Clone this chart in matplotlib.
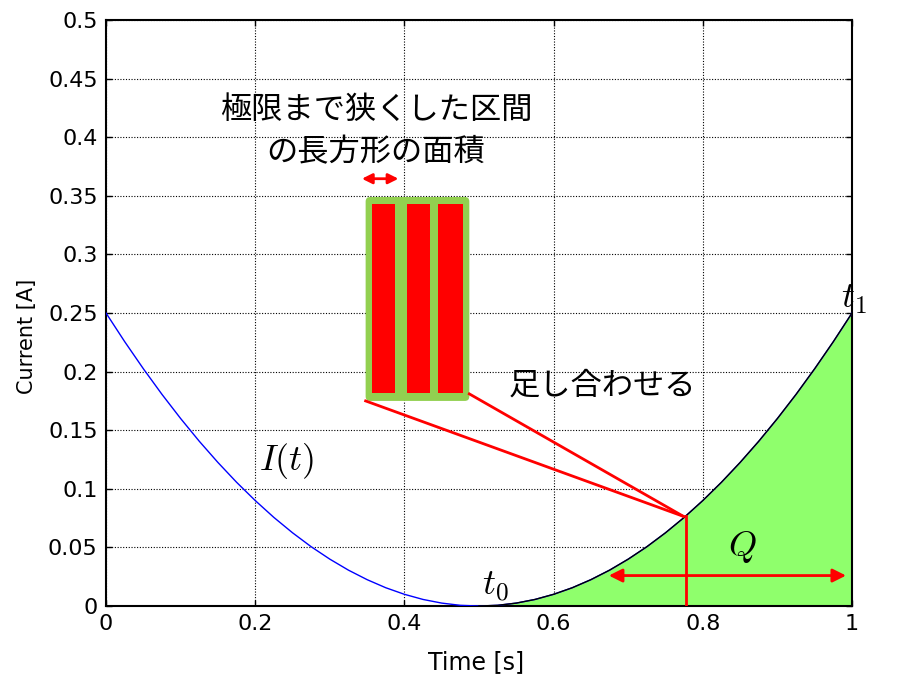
import matplotlib
matplotlib.use("Agg")
import matplotlib.pyplot as plt
from matplotlib.patches import FancyBboxPatch

plt.rcParams['font.family'] = ['DejaVu Sans', 'Noto Sans CJK JP']
plt.rcParams['mathtext.fontset'] = 'cm'

# current curve
t = [0.0, 0.025, 0.05, 0.075, 0.1, 0.125, 0.15, 0.175, 0.2, 0.225,
     0.25, 0.275, 0.3, 0.325, 0.35, 0.375, 0.4, 0.425, 0.45, 0.475,
     0.5, 0.525, 0.55, 0.575, 0.6, 0.625, 0.65, 0.675, 0.7, 0.725,
     0.75, 0.775, 0.8, 0.825, 0.85, 0.875, 0.9, 0.925, 0.95, 0.975, 1.0]
current = [0.25, 0.2256, 0.2025, 0.1806, 0.16, 0.1406, 0.1225, 0.1056, 0.09, 0.0756,
           0.0625, 0.0506, 0.04, 0.0306, 0.0225, 0.0156, 0.01, 0.0056, 0.0025, 0.0006,
           0.0, 0.0006, 0.0025, 0.0056, 0.01, 0.0156, 0.0225, 0.0306, 0.04, 0.0506,
           0.0625, 0.0756, 0.09, 0.1056, 0.1225, 0.1406, 0.16, 0.1806, 0.2025, 0.2256, 0.25]
t0 = 0.5
t1 = 1.0

# rectangles inside the illustration box
bar_left = [0.356, 0.403, 0.445]
bar_width = [0.032, 0.031, 0.033]
bar_bottom = 0.182
bar_height = 0.161
box_x, box_y, box_w, box_h = 0.348, 0.175, 0.139, 0.174

x_ticks = [0, 0.2, 0.4, 0.6, 0.8, 1]
x_labels = ['0', '0.2', '0.4', '0.6', '0.8', '1']
y_ticks = [0, 0.05, 0.1, 0.15, 0.2, 0.25, 0.3, 0.35, 0.4, 0.45, 0.5]
y_labels = ['0', '0.05', '0.1', '0.15', '0.2', '0.25', '0.3', '0.35', '0.4', '0.45', '0.5']

fig = plt.figure(figsize=(9, 6.93), dpi=100)
ax = fig.add_axes([0.1178, 0.1255, 0.8289, 0.8456])

ax.plot(t, current, color='blue', lw=1.0, zorder=3)
right = [i for i, v in enumerate(t) if v >= t0]
tr = [t[i] for i in right]
cr = [current[i] for i in right]
ax.fill_between(tr, 0, cr, color='#8fff6c', lw=0, zorder=2)
ax.plot(tr, cr, color='black', lw=1.0, zorder=4)

# illustration box
box = FancyBboxPatch((box_x, box_y), box_w, box_h,
                     boxstyle='round,pad=0,rounding_size=0.006',
                     mutation_aspect=0.64, fc='#92d050', ec='none', zorder=5)
ax.add_patch(box)
ax.bar(bar_left, bar_height, width=bar_width, bottom=bar_bottom, align='edge',
       color='red', zorder=6)

ax.annotate('', xy=(0.392, 0.3646), xytext=(0.343, 0.3646),
            arrowprops=dict(arrowstyle='<|-|>', color='red', lw=2,
                            mutation_scale=15, shrinkA=0, shrinkB=0), zorder=6)

# lines from the box to the curve
ax.plot([box_x, 0.774], [box_y, 0.0765], color='red', lw=2, zorder=5)
ax.plot([box_x + box_w, 0.774], [0.181, 0.0765], color='red', lw=2, zorder=5)
ax.plot([0.777, 0.777], [0, 0.0765], color='red', lw=2, zorder=5)

ax.annotate('', xy=(0.992, 0.026), xytext=(0.674, 0.026),
            arrowprops=dict(arrowstyle='<|-|>', color='red', lw=2,
                            mutation_scale=20, shrinkA=0, shrinkB=0), zorder=6)

cjk = ['Noto Sans CJK JP', 'DejaVu Sans']
ax.text(0.362, 0.423, '極限まで狭くした区間', fontsize=22.5, family=cjk,
        ha='center', va='center', zorder=7)
ax.text(0.362, 0.387, 'の長方形の面積', fontsize=22.5, family=cjk,
        ha='center', va='center', zorder=7)
ax.text(0.54, 0.188, '足し合わせる', fontsize=22.5, family=cjk,
        ha='left', va='center', zorder=7)

ax.text(0.242, 0.124, r'$I(t)$', fontsize=26, ha='center', va='center')
ax.text(0.522, 0.0165, r'$t_0$', fontsize=26, ha='center', va='center', zorder=7)
ax.text(1.002, 0.262, r'$t_1$', fontsize=26, ha='center', va='center', zorder=7)
ax.text(0.853, 0.05, r'$Q$', fontsize=26, ha='center', va='center', zorder=7)

ax.set_xlim(0, 1)
ax.set_ylim(0, 0.5)
ax.set_xticks(x_ticks)
ax.set_xticklabels(x_labels)
ax.set_yticks(y_ticks)
ax.set_yticklabels(y_labels)
ax.tick_params(direction='in', length=4, width=1, labelsize=16, pad=6,
               top=True, right=True)
ax.grid(True, color='black', linestyle=(0, (1, 1.5)), lw=0.8)
for s in ax.spines.values():
    s.set_linewidth(1.5)

ax.set_xlabel('Time [s]', fontsize=17)
ax.set_ylabel('Current [A]', fontsize=15)
ax.xaxis.set_label_coords(0.496, -0.075)
ax.yaxis.set_label_coords(-0.093, 0.46)

fig.savefig('out.png', dpi=100)
